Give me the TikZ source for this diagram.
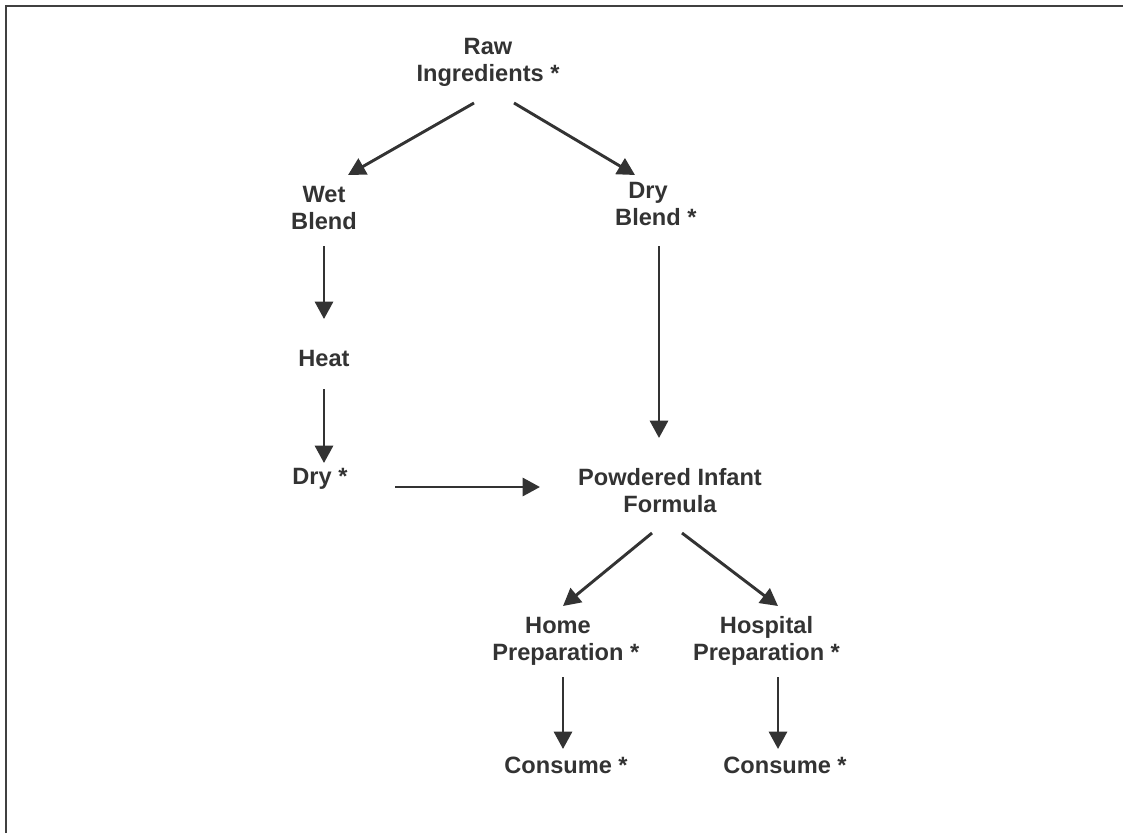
\documentclass[tikz,border=0pt]{standalone}
\usepackage{fontspec}
\setmainfont{Liberation Sans}
\usetikzlibrary{arrows.meta}
\definecolor{inkgray}{HTML}{333333}

\begin{document}
\begin{tikzpicture}[x=0.75pt,y=-0.75pt,
    stagenode/.style={inner sep=0pt,align=center,text=inkgray,font=\fontsize{17.7}{20.25}\selectfont\bfseries},
    flowarrow/.style={draw=inkgray,line width=2.2pt,-{Triangle[length=13pt,width=13.5pt]}}]

  %%%% Frame: only the top and left edges show %%%%
  \fill[white] (0,0) rectangle (1123,833);
  \useasboundingbox (0,0) rectangle (1123,833);
  \draw[line width=1.9pt,draw=black!75] (6,833) -- (6,6) -- (1123,6);

  %% Stages of the process
  \node[stagenode] (raw) at (488,62) {Raw\\Ingredients *};
  \node[stagenode] (wet) at (324,208) {Wet\\Blend};
  \node[stagenode] (dryblend) at (648,203.5) {Dry\\Blend\rlap{ *}};
  \node[stagenode] (heat) at (324,358) {Heat};
  \node[stagenode] (dry) at (320,478.5) {Dry *};
  \node[stagenode] (pif) at (670,490.5) {Powdered Infant\\Formula};
  \node[stagenode] (home) at (558,641) {Home\\Preparation\rlap{ *}};
  \node[stagenode] (hospital) at (766.5,641) {Hospital\\Preparation *};
  \node[stagenode] (consumeA) at (566,765) {Consume *};
  \node[stagenode] (consumeB) at (785,765) {Consume *};

  %% Arrows: source node / offset, target node / offset (from centres)
  \foreach \src/\sx/\sy/\dst/\dx/\dy in {
      raw/-14/41/wet/24/-33,
      raw/26/41/dryblend/-13/-28.5,
      wet/0/38/heat/0/-39,
      dryblend/11/42.5/pif/-11/-52.5,
      heat/0/31/dry/4/-15.5,
      dry/75/8.5/pif/-130/-3.5,
      pif/-18/42.5/home/5/-35,
      pif/12/42.5/hospital/11.5/-35,
      home/5/36/consumeA/-3/-16,
      hospital/11.5/36/consumeB/-7/-16}{
    \draw[flowarrow] ([shift={(\sx,\sy)}]\src.center) -- ([shift={(\dx,\dy)}]\dst.center);
  }

\end{tikzpicture}
\end{document}
